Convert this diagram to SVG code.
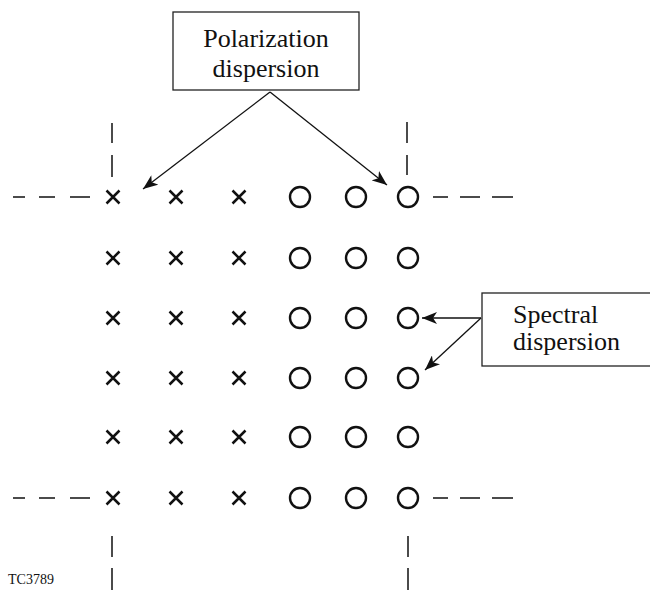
<svg xmlns="http://www.w3.org/2000/svg" width="650" height="591" viewBox="0 0 650 591">
<style>
.lbl{font-family:"Liberation Serif","Times New Roman",serif;font-size:26px;fill:#111}
.box{fill:#fff;stroke:#222;stroke-width:1.3}
.conn{stroke:#111;stroke-width:1.3;fill:none}
.dash{stroke:#111;stroke-width:1.5;fill:none}
.x{stroke:#111;stroke-width:2.5;fill:none}
.o{stroke:#111;stroke-width:2.4;fill:none}
.tag{font-family:"Liberation Serif","Times New Roman",serif;font-size:14px;fill:#111}
</style>
<defs>
<marker id="ah" viewBox="0 0 15 12" refX="15" refY="6" markerWidth="15" markerHeight="12" markerUnits="userSpaceOnUse" orient="auto">
<path d="M0,0 L15,6 L0,12 L4,6 z" fill="#111"/>
</marker>
<g id="xs"><path class="x" d="M-6.5,-6.5 L6.5,6.5 M6.5,-6.5 L-6.5,6.5"/></g>
<circle id="os" class="o" r="10"/>
</defs>
<rect width="650" height="591" fill="#fff"/>
<g id="grid">
<g id="row1">
<use href="#xs" x="113" y="197"/><use href="#xs" x="176" y="197"/><use href="#xs" x="239" y="197"/>
<use href="#os" x="300" y="197"/><use href="#os" x="356" y="197"/><use href="#os" x="408" y="197"/>
</g>
<g id="row2">
<use href="#xs" x="113" y="258"/><use href="#xs" x="176" y="258"/><use href="#xs" x="239" y="258"/>
<use href="#os" x="300" y="258"/><use href="#os" x="356" y="258"/><use href="#os" x="408" y="258"/>
</g>
<g id="row3">
<use href="#xs" x="113" y="318"/><use href="#xs" x="176" y="318"/><use href="#xs" x="239" y="318"/>
<use href="#os" x="300" y="318"/><use href="#os" x="356" y="318"/><use href="#os" x="408" y="318"/>
</g>
<g id="row4">
<use href="#xs" x="113" y="378"/><use href="#xs" x="176" y="378"/><use href="#xs" x="239" y="378"/>
<use href="#os" x="300" y="378"/><use href="#os" x="356" y="378"/><use href="#os" x="408" y="378"/>
</g>
<g id="row5">
<use href="#xs" x="113" y="437"/><use href="#xs" x="176" y="437"/><use href="#xs" x="239" y="437"/>
<use href="#os" x="300" y="437"/><use href="#os" x="356" y="437"/><use href="#os" x="408" y="437"/>
</g>
<g id="row6">
<use href="#xs" x="113" y="498"/><use href="#xs" x="176" y="498"/><use href="#xs" x="239" y="498"/>
<use href="#os" x="300" y="498"/><use href="#os" x="356" y="498"/><use href="#os" x="408" y="498"/>
</g>
</g>
<g id="boundary">
<path class="dash" d="M13,197 H25 M39,197 H55 M70,197 H90"/>
<path class="dash" d="M433,197 H448 M460,197 H480 M492,197 H513"/>
<path class="dash" d="M13,498 H25 M39,498 H55 M70,498 H90"/>
<path class="dash" d="M433,498 H448 M460,498 H480 M492,498 H513"/>
<path class="dash" d="M112,123 V143 M112,155 V177"/>
<path class="dash" d="M407,122 V143 M407,155 V175"/>
<path class="dash" d="M112,536 V557 M112,568 V590"/>
<path class="dash" d="M408,536 V557 M408,568 V590"/>
</g>
<g id="polarization">
<rect class="box" x="173" y="12" width="186" height="78"/>
<text class="lbl" x="266" y="47" text-anchor="middle">Polarization</text>
<text class="lbl" x="266" y="77" text-anchor="middle">dispersion</text>
</g>
<g id="spectral">
<rect class="box" x="482" y="293" width="180" height="73"/>
<text class="lbl" x="513" y="323">Spectral</text>
<text class="lbl" x="513" y="350">dispersion</text>
</g>
<g id="connectors">
<path class="conn" d="M270,92 L143,189" marker-end="url(#ah)"/>
<path class="conn" d="M270,92 L387,185" marker-end="url(#ah)"/>
<path class="conn" d="M481,318 L422,318" marker-end="url(#ah)"/>
<path class="conn" d="M481,318 L425,370" marker-end="url(#ah)"/>
</g>
<text class="tag" x="8" y="584">TC3789</text>
</svg>
